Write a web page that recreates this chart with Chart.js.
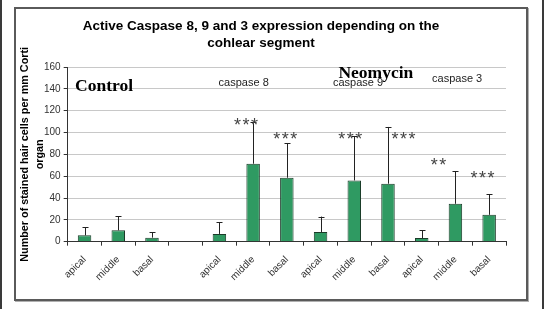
<!DOCTYPE html>
<html>
<head>
<meta charset="utf-8">
<script src="https://cdn.jsdelivr.net/npm/chart.js@4/dist/chart.umd.min.js"></script>
<style>
  html, body { margin: 0; padding: 0; background: #fff; }
  #page { position: relative; width: 544px; height: 309px; overflow: hidden; }
  #page .edge { position: absolute; top: 0; width: 2px; height: 309px; background: #3a3a3a; }
  #frame {
    position: absolute; left: 14px; top: 7px; width: 510px; height: 290px;
    border: 2px solid #5a5a5a; box-shadow: 1px 1px 0 #b0b0b0;
  }
  #frame canvas { display: block; }
</style>
</head>
<body>
<div id="page">
  <div class="edge" style="left:0"></div>
  <div class="edge" style="left:542px"></div>
  <div id="frame"><canvas id="caspaseChart" width="510" height="290"></canvas></div>
</div>
<script>
// Cochlear segment per bar (blank slot separates control from neomycin groups)
const segments = ['apical', 'middle', 'basal', '', 'apical', 'middle', 'basal',
                  'apical', 'middle', 'basal', 'apical', 'middle', 'basal'];
// Mean stained hair cells per mm organ of Corti
const means = [5.8, 10.4, 3.7, null, 7.1, 71.4, 58.6, 8.9, 56.1, 53.1, 3.4, 34.7, 24.6];
// Upper error (SD) for each bar
const errors = [7.3, 12.9, 4.9, null, 10.6, 38.6, 31.8, 14.1, 40.5, 52.0, 7.0, 29.7, 18.9];

const yMin = 0, yMax = 160, yStep = 20;

const titleLines = ['Active Caspase 8, 9 and 3 expression depending on the', 'cohlear segment'];
const yTitleLines = ['Number of stained hair cells per mm Corti', 'organ'];

// Text annotations, placed in [category index, value] units
const groupLabels = ['caspase 8', 'caspase 9', 'caspase 3'];
const groupLabelAt = [[4.72, 145.6], [8.11, 145.6], [11.05, 148.7]];
const treatmentLabels = ['Control', 'Neomycin'];
const treatmentLabelAt = [[-0.28, 138.2], [7.53, 149.9]];
const starLabels = ['***', '***', '***', '***', '**', '***'];
const starLabelAt = [[4.79, 109.7], [5.95, 97.7], [7.88, 97.7], [9.46, 97.7], [10.5, 73.8], [11.8, 61.6]];

const SANS = "'Liberation Sans', Arial, sans-serif";
const SERIF = "'Liberation Serif', 'Times New Roman', serif";

// helper: fractional category index -> pixel
function catPx(chart, i) {
  const x = chart.scales.x;
  const x0 = x.getPixelForValue(0);
  const step = x.getPixelForValue(1) - x0;
  return x0 + i * step;
}

const errorBarPlugin = {
  id: 'errorBars',
  afterDatasetsDraw(chart) {
    const ctx = chart.ctx;
    const y = chart.scales.y;
    const meta = chart.getDatasetMeta(0);
    ctx.save();
    ctx.strokeStyle = '#222';
    ctx.lineWidth = 1;
    meta.data.forEach((bar, i) => {
      if (means[i] == null || errors[i] == null) return;
      const top = y.getPixelForValue(means[i] + errors[i]);
      const x = Math.round(bar.x) + 0.5;
      ctx.beginPath();
      ctx.moveTo(x, bar.y);
      ctx.lineTo(x, top);
      ctx.moveTo(x - 3, Math.round(top) + 0.5);
      ctx.lineTo(x + 3, Math.round(top) + 0.5);
      ctx.stroke();
    });
    ctx.restore();
  }
};

const annotationPlugin = {
  id: 'annotations',
  beforeDraw(chart) {
    const ctx = chart.ctx;
    const area = chart.chartArea;
    ctx.save();
    ctx.fillStyle = '#000';
    ctx.textAlign = 'center';
    ctx.textBaseline = 'middle';
    ctx.font = 'bold 13.5px ' + SANS;
    titleLines.forEach((line, k) => ctx.fillText(line, 245, 17 + k * 17));
    // y axis title, two rotated lines
    ctx.font = 'bold 10.8px ' + SANS;
    const midY = (area.top + area.bottom) / 2;
    yTitleLines.forEach((line, k) => {
      ctx.save();
      ctx.translate(9 + k * 15, midY);
      ctx.rotate(-Math.PI / 2);
      ctx.fillText(line, 0, 0);
      ctx.restore();
    });
    ctx.restore();
  },
  afterDatasetsDraw(chart) {
    const ctx = chart.ctx;
    const y = chart.scales.y;
    ctx.save();
    // treatment labels
    ctx.fillStyle = '#000';
    ctx.textAlign = 'left';
    ctx.textBaseline = 'alphabetic';
    ctx.font = 'bold 17.5px ' + SERIF;
    treatmentLabels.forEach((t, k) => {
      const [i, v] = treatmentLabelAt[k];
      ctx.fillText(t, catPx(chart, i), y.getPixelForValue(v));
    });
    // caspase group labels
    ctx.fillStyle = '#222';
    ctx.textAlign = 'center';
    ctx.textBaseline = 'middle';
    ctx.font = '11px ' + SANS;
    groupLabels.forEach((t, k) => {
      const [i, v] = groupLabelAt[k];
      ctx.fillText(t, catPx(chart, i), y.getPixelForValue(v));
    });
    // significance stars
    ctx.fillStyle = '#444';
    ctx.font = '18px ' + SANS;
    ctx.textAlign = 'center';
    ctx.textBaseline = 'alphabetic';
    const m = ctx.measureText('*');
    const shift = (m.actualBoundingBoxAscent - m.actualBoundingBoxDescent) / 2;
    const pitch = 8.5;
    starLabels.forEach((s, k) => {
      const [i, v] = starLabelAt[k];
      const cx = catPx(chart, i);
      const cy = y.getPixelForValue(v) + shift;
      for (let j = 0; j < s.length; j++) {
        ctx.fillText('*', cx + (j - (s.length - 1) / 2) * pitch, cy);
      }
    });
    ctx.restore();
  }
};

const ctx = document.getElementById('caspaseChart').getContext('2d');
new Chart(ctx, {
  type: 'bar',
  data: {
    labels: segments,
    datasets: [{
      data: means,
      backgroundColor: '#2f9a62',
      borderColor: '#1b3b29',
      borderWidth: 1,
      barPercentage: 0.4,
      categoryPercentage: 1.0
    }]
  },
  options: {
    responsive: false,
    animation: false,
    layout: { padding: { top: 58, right: 20, left: 25, bottom: 8 } },
    plugins: {
      legend: { display: false },
      tooltip: { enabled: false },
      title: { display: false }
    },
    scales: {
      x: {
        grid: {
          display: true,
          drawOnChartArea: false,
          color: '#333',
          tickLength: 4,
          offset: true
        },
        border: { color: '#333', width: 1 },
        ticks: {
          color: '#333',
          font: { family: SANS, size: 10 },
          maxRotation: 45,
          minRotation: 45,
          autoSkip: false,
          padding: 8
        }
      },
      y: {
        min: yMin,
        max: yMax,
        grid: { color: '#c8c8c8', tickLength: 4, tickColor: '#333' },
        border: { color: '#333', width: 1 },
        ticks: {
          stepSize: yStep,
          color: '#333',
          font: { family: SANS, size: 10 },
          padding: 3
        }
      }
    }
  },
  plugins: [errorBarPlugin, annotationPlugin]
});
</script>
</body>
</html>
